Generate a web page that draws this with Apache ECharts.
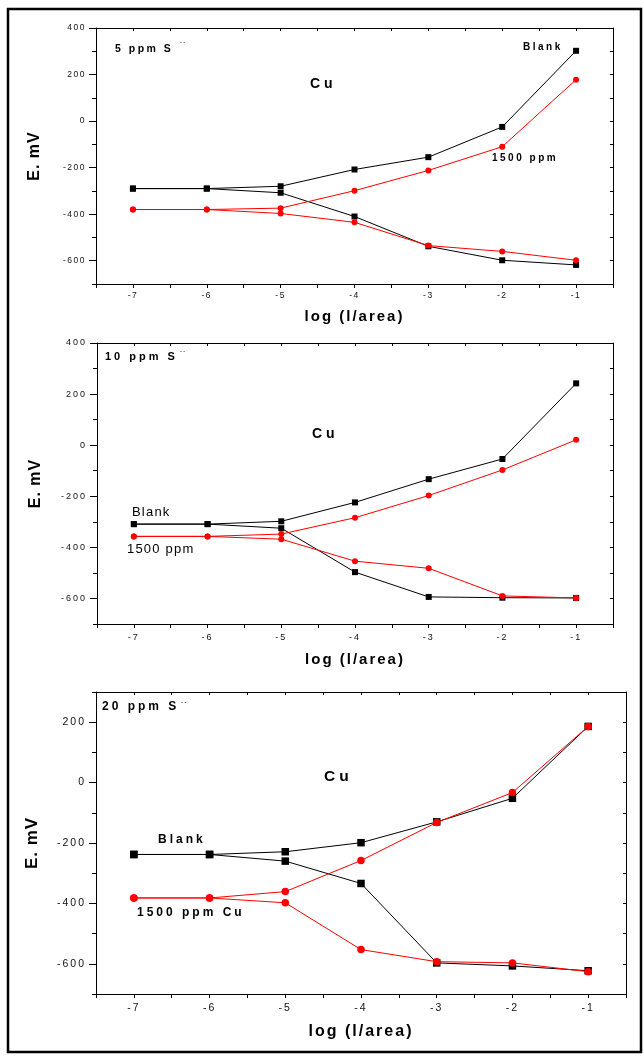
<!DOCTYPE html>
<html>
<head>
<meta charset="utf-8">
<script src="https://cdn.jsdelivr.net/npm/echarts@6/dist/echarts.min.js"></script>
<style>
  html, body { margin: 0; padding: 0; background: #fff; }
  #chart { width: 644px; height: 1056px; }
</style>
</head>
<body>
<div id="chart"></div>
<script>
// x values, log (l/area)
const logArea = [-7, -6, -5, -4, -3, -2, -1]

// 5 ppm S-- : forward (up) and reverse (down) branches, E in mV
const blank5Up = [-290, -290, -280, -208, -155, -25, 302]
const blank5Down = [-290, -290, -308, -410, -538, -598, -618]
const cu5Up = [-380, -380, -374, -299, -212, -110, 178]
const cu5Down = [-380, -380, -397, -435, -535, -560, -598]

// 10 ppm S--
const blank10Up = [-309, -309, -298, -224, -133, -54, 242]
const blank10Down = [-309, -309, -325, -497, -594, -597, -598]
const cu10Up = [-357, -357, -348, -284, -197, -97, 21]
const cu10Down = [-357, -357, -368, -454, -482, -590, -598]

// 20 ppm S--
const blank20Up = [-238, -238, -229, -199, -130, -52, 186]
const blank20Down = [-238, -238, -260, -334, -597, -607, -623]
const cu20Up = [-382, -382, -361, -258, -132, -33, 186]
const cu20Down = [-382, -382, -398, -553, -593, -597, -626]

// tick labels
const xTickLabels = [-7, -6, -5, -4, -3, -2, -1]
const yTickLabels = [-600, -400, -200, 0, 200, 400]
const yTickLabels20 = [-600, -400, -200, 0, 200]

const FONT = "'Liberation Sans', Arial, sans-serif"

// Origin exports use wide letter spacing; ECharts has no option for it,
// so set it on the canvas right before each text is drawn
function spacingFor (text, font) {
  const m = font.match(/([\d.]+)px/)
  const size = m ? parseFloat(m[1]) : 12
  const bold = font.indexOf('bold') >= 0
  if (text === 'E. mV') return 1
  if (text === 'log (l/area)') return 2
  if (!bold && size >= 12) return 1.2
  if (!bold) return Math.round(size * 0.2 * 2) / 2 // tick labels
  if (text === 'Cu') return 4
  return Math.round(size * 0.25 * 2) / 2
}
const nativeFillText = CanvasRenderingContext2D.prototype.fillText
CanvasRenderingContext2D.prototype.fillText = function (text, x, y, maxWidth) {
  this.letterSpacing = spacingFor(String(text), this.font) + 'px'
  if (maxWidth === undefined) return nativeFillText.call(this, text, x, y)
  return nativeFillText.call(this, text, x, y, maxWidth)
}

const panels = [
  { left: 96, top: 28, width: 517, height: 256, yMin: -700, yMax: 400, yLabels: yTickLabels,
    tickFont: 8.5, xLabelMargin: 7, xNameGap: 25, xNameFont: 15, yNameGap: 53, yNameFont: 16, mark: 6,
    blankUp: blank5Up, blankDown: blank5Down, cuUp: cu5Up, cuDown: cu5Down },
  { left: 97, top: 343, width: 516, height: 281, yMin: -700, yMax: 400, yLabels: yTickLabels,
    tickFont: 9, xLabelMargin: 9, xNameGap: 28, xNameFont: 15, yNameGap: 53, yNameFont: 16, mark: 6,
    blankUp: blank10Up, blankDown: blank10Down, cuUp: cu10Up, cuDown: cu10Down },
  { left: 96, top: 692, width: 530, height: 302, yMin: -700, yMax: 300, yLabels: yTickLabels20,
    tickFont: 10.5, xLabelMargin: 9, xNameGap: 30, xNameFont: 16, yNameGap: 55, yNameFont: 17, mark: 7.5,
    blankUp: blank20Up, blankDown: blank20Down, cuUp: cu20Up, cuDown: cu20Down }
]

const grids = []
const xAxes = []
const yAxes = []
const series = []

const axisLine = { show: true, onZero: false, lineStyle: { color: '#000', width: 1 } }
const noLine = { show: false, onZero: false }

panels.forEach((p, i) => {
  grids.push({ left: p.left, top: p.top, width: p.width, height: p.height })

  const xi = xAxes.length
  // bottom axis, ticks every 0.5, labels on the integers
  xAxes.push({
    type: 'value', gridIndex: i, position: 'bottom', min: -7.5, max: -0.5, interval: 0.5,
    name: 'log (l/area)', nameLocation: 'middle', nameGap: p.xNameGap,
    nameTextStyle: { fontSize: p.xNameFont, fontWeight: 'bold', color: '#000', fontFamily: FONT },
    axisLine: axisLine,
    axisTick: { length: 4, lineStyle: { color: '#000' } },
    axisLabel: {
      fontSize: p.tickFont, color: '#111', fontFamily: FONT, margin: p.xLabelMargin,
      formatter: v => (xTickLabels.indexOf(v) >= 0 ? String(v) : '')
    },
    splitLine: { show: false }
  })
  // top mirror
  xAxes.push({
    type: 'value', gridIndex: i, position: 'top', min: -7.5, max: -0.5, interval: 0.5,
    axisLine: axisLine,
    axisTick: { inside: true, length: 3, lineStyle: { color: '#000' } },
    axisLabel: { show: false },
    splitLine: { show: false }
  })

  const yi = yAxes.length
  // left axis: labelled ticks
  yAxes.push({
    type: 'value', gridIndex: i, position: 'left', min: p.yMin, max: p.yMax, interval: 100,
    name: 'E. mV', nameLocation: 'middle', nameGap: p.yNameGap,
    nameTextStyle: { fontSize: p.yNameFont, fontWeight: 'bold', color: '#000', fontFamily: FONT },
    axisLine: axisLine,
    axisTick: { length: 7, customValues: p.yLabels, lineStyle: { color: '#000' } },
    axisLabel: { fontSize: p.tickFont, color: '#111', fontFamily: FONT, margin: 10, customValues: p.yLabels },
    splitLine: { show: false }
  })
  // left axis: short ticks every 100
  yAxes.push({
    type: 'value', gridIndex: i, position: 'left', min: p.yMin, max: p.yMax, interval: 100,
    axisLine: noLine,
    axisTick: { length: 4, lineStyle: { color: '#000' } },
    axisLabel: { show: false },
    splitLine: { show: false }
  })
  // right mirror
  yAxes.push({
    type: 'value', gridIndex: i, position: 'right', min: p.yMin, max: p.yMax, interval: 100,
    axisLine: axisLine,
    axisTick: { inside: true, length: 3, lineStyle: { color: '#000' } },
    axisLabel: { show: false },
    splitLine: { show: false }
  })

  const lines = [
    { data: p.blankUp, color: '#000', symbol: 'rect', z: 2 },
    { data: p.blankDown, color: '#000', symbol: 'rect', z: 2 },
    { data: p.cuUp, color: '#ff0000', symbol: 'circle', z: 3 },
    { data: p.cuDown, color: '#ff0000', symbol: 'circle', z: 3 }
  ]
  lines.forEach(l => {
    series.push({
      type: 'line', xAxisIndex: xi, yAxisIndex: yi, z: l.z,
      data: logArea.map((x, k) => [x, l.data[k]]),
      symbol: l.symbol, symbolSize: p.mark, showSymbol: true,
      itemStyle: { color: l.color },
      lineStyle: { color: l.color, width: 1 },
      emphasis: { disabled: true }
    })
  })
})

function label (text, x, y, size, bold) {
  return {
    type: 'text', x: x, y: y, z: 10,
    style: {
      text: text, fill: '#000', fontFamily: FONT, fontSize: size,
      fontWeight: bold ? 'bold' : 'normal', align: 'left', verticalAlign: 'middle'
    }
  }
}

const graphics = [
  { type: 'rect', z: 10, shape: { x: 8, y: 9, width: 633, height: 1043 },
    style: { fill: 'none', stroke: '#000', lineWidth: 2.5 } },
  // 5 ppm
  label('5 ppm S', 115, 49, 10.5, true),
  label('--', 180, 42, 5.5, true),
  label('Blank', 523, 47, 10, true),
  label('Cu', 310, 84, 14, true),
  label('1500 ppm', 492, 158, 10, true),
  // 10 ppm
  label('10 ppm S', 105, 357, 11, true),
  label('--', 180, 351, 5.5, true),
  label('Blank', 132, 512, 13, false),
  label('1500 ppm', 127, 549, 13, false),
  label('Cu', 312, 434, 14, true),
  // 20 ppm
  label('20 ppm S', 102, 707, 12, true),
  label('--', 181, 702, 6, true),
  label('Blank', 158, 840, 12, true),
  label('1500 ppm Cu', 137, 913, 12, true),
  label('Cu', 324, 777, 15.5, true)
]

const chart = echarts.init(document.getElementById('chart'))
chart.setOption({
  animation: false,
  backgroundColor: '#fff',
  grid: grids,
  xAxis: xAxes,
  yAxis: yAxes,
  series: series,
  graphic: graphics
})
</script>
</body>
</html>
